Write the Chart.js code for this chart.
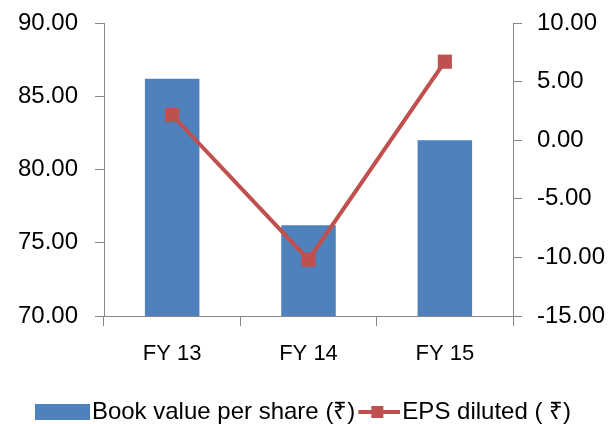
<!DOCTYPE html>
<html>
<head>
<meta charset="utf-8">
<script src="https://cdn.jsdelivr.net/npm/chart.js@4/dist/chart.umd.min.js"></script>
<style>
  body { margin: 0; background: #fff; }
  #contenedor { width: 616px; height: 424px; }
</style>
</head>
<body>
<div id="contenedor"><canvas id="graficaValorAccion" width="616" height="424"></canvas></div>
<script>
var categorias = ["FY 13", "FY 14", "FY 15"];
var valorContable = [86.2, 76.2, 82.0];   // Book value per share
var bpaDiluido = [2.15, -10.2, 6.7];      // EPS diluted
var ticksIzquierda = [70, 75, 80, 85, 90];
var ticksDerecha = [-15, -10, -5, 0, 5, 10];
var nombresSeries = ["Book value per share (\u20B9)", "EPS diluted ( \u20B9)"];

var AZUL = "#4F81BD";
var ROJO = "#C0504D";
var GRIS_EJE = "#868686";

Chart.defaults.font.family = "'Liberation Sans', Arial, sans-serif";
Chart.defaults.color = "#111";

// iconos de la leyenda: caja azul y linea con cuadrado
function iconoBarra() {
    var c = document.createElement("canvas");
    c.width = 55;
    c.height = 16;
    var ctx = c.getContext("2d");
    ctx.fillStyle = AZUL;
    ctx.fillRect(0, 0, 55, 16);
    return c;
}

function iconoLinea() {
    var c = document.createElement("canvas");
    c.width = 55;
    c.height = 16;
    var ctx = c.getContext("2d");
    ctx.strokeStyle = ROJO;
    ctx.lineWidth = 4;
    ctx.beginPath();
    ctx.moveTo(13, 8);
    ctx.lineTo(55, 8);
    ctx.stroke();
    ctx.fillStyle = ROJO;
    ctx.fillRect(26, 2, 12, 12);
    return c;
}

var imagenesLeyenda = [iconoBarra(), iconoLinea()];

// ancho fijo del eje y sin el margen extra de la primera/ultima etiqueta
function ajustarEjeY(ancho) {
    return function (escala) {
        escala.width = ancho;
        escala.paddingTop = 0;
        escala.paddingBottom = 0;
    };
}

var ctx = document.getElementById("graficaValorAccion").getContext("2d");

new Chart(ctx, {
    data: {
        labels: categorias,
        datasets: [{
            type: "bar",
            label: nombresSeries[0],
            data: valorContable,
            backgroundColor: AZUL,
            yAxisID: "y",
            order: 1,
            categoryPercentage: 1,
            barPercentage: 0.4
        }, {
            type: "line",
            label: nombresSeries[1],
            data: bpaDiluido,
            borderColor: ROJO,
            backgroundColor: ROJO,
            borderWidth: 4,
            pointStyle: "rect",
            pointRadius: 10,
            pointBorderWidth: 0,
            yAxisID: "y1",
            order: 0
        }]
    },
    options: {
        responsive: false,
        animation: false,
        layout: { padding: { top: 23, left: 0, right: 0, bottom: -10 } },
        plugins: {
            tooltip: { enabled: false },
            legend: {
                position: "bottom",
                labels: {
                    usePointStyle: true,
                    pointStyleWidth: 35,
                    padding: 0,
                    color: "#000",
                    font: { size: 24 },
                    generateLabels: function (chart) {
                        return nombresSeries.map(function (texto, i) {
                            return {
                                text: texto,
                                pointStyle: imagenesLeyenda[i],
                                fillStyle: i == 0 ? AZUL : ROJO,
                                strokeStyle: i == 0 ? AZUL : ROJO,
                                lineWidth: 0,
                                hidden: false,
                                datasetIndex: i
                            };
                        });
                    }
                }
            }
        },
        scales: {
            x: {
                grid: { offset: true, drawOnChartArea: false, tickLength: 10, color: GRIS_EJE },
                border: { color: GRIS_EJE },
                ticks: { font: { size: 22 }, padding: 15, color: "#000" },
                afterFit: function (escala) { escala.height = 84; }
            },
            y: {
                position: "left",
                min: ticksIzquierda[0],
                max: ticksIzquierda[ticksIzquierda.length - 1],
                grid: { drawOnChartArea: false, tickLength: 9, color: GRIS_EJE },
                border: { color: GRIS_EJE },
                ticks: {
                    stepSize: ticksIzquierda[1] - ticksIzquierda[0],
                    padding: 17,
                    font: { size: 24 },
                    color: "#000",
                    callback: function (v) { return v.toFixed(2); }
                },
                afterFit: ajustarEjeY(104)
            },
            y1: {
                position: "right",
                min: ticksDerecha[0],
                max: ticksDerecha[ticksDerecha.length - 1],
                grid: { drawOnChartArea: false, tickLength: 9, color: GRIS_EJE },
                border: { color: GRIS_EJE },
                ticks: {
                    stepSize: ticksDerecha[1] - ticksDerecha[0],
                    padding: 15,
                    font: { size: 24 },
                    color: "#000",
                    callback: function (v) { return v.toFixed(2); }
                },
                afterFit: ajustarEjeY(103)
            }
        }
    }
});
</script>
</body>
</html>
